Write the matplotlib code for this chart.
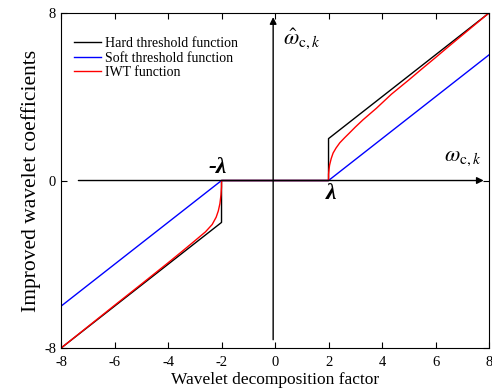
import matplotlib
matplotlib.use("Agg")
import matplotlib.pyplot as plt

plt.rcParams['font.family'] = ['Liberation Serif', 'DejaVu Serif']
plt.rcParams['mathtext.fontset'] = 'stix'
plt.rcParams['axes.unicode_minus'] = False

LAMBDA = 2

# hard threshold: y = x outside [-lambda, lambda], 0 inside
hard_x = [-8, -2, -2, 2, 2, 8]
hard_y = [-8, -2, 0, 0, 2, 8]

# soft threshold: shrunk by lambda
soft_x = [-8, -2, 2, 8]
soft_y = [-6, 0, 0, 6]

# IWT curve
iwt_x = [-8, -7, -6, -5, -4.5, -4, -3.5, -3, -2.6, -2.35, -2.2, -2.12, -2.06,
         -2.02, -2, -2, 2, 2, 2.02, 2.04, 2.1, 2.17, 2.28, 2.42, 2.6, 2.79,
         3, 3.29, 3.79, 4.35, 5, 5.5, 6, 6.5, 7, 7.5, 8]
iwt_y = [-8, -6.98, -5.96, -4.95, -4.44, -3.93, -3.41, -2.88, -2.45, -2.1,
         -1.75, -1.45, -1.1, -0.68, -0.3, 0, 0, 0.3, 0.55, 0.74, 1.05, 1.31,
         1.55, 1.8, 2.04, 2.28, 2.55, 2.9, 3.45, 4.12, 4.8, 5.34, 5.87,
         6.41, 6.94, 7.47, 8]

x_ticks = [-8, -6, -4, -2, 0, 2, 4, 6, 8]
y_ticks = [-8, 0, 8]

fig = plt.figure(figsize=(4.92, 3.92), dpi=100)
ax = fig.add_axes([0.124, 0.112, 0.870, 0.855])

# inner coordinate axes with arrows
ax.annotate('', xy=(-0.07, 7.8), xytext=(-0.07, -7.6),
            arrowprops=dict(arrowstyle='-|>', color='black', lw=1,
                            mutation_scale=10, shrinkA=0, shrinkB=0))
ax.annotate('', xy=(7.8, 0), xytext=(-7.35, 0),
            arrowprops=dict(arrowstyle='-|>', color='black', lw=1,
                            mutation_scale=10, shrinkA=0, shrinkB=0))

ax.plot(hard_x, hard_y, color='black', lw=1, label='Hard threshold function')
ax.plot(soft_x, soft_y, color='blue', lw=1, label='Soft threshold function')
ax.plot(iwt_x, iwt_y, color='red', lw=1, label='IWT function')

ax.text(0.3, 6.75, r'$\hat{\omega}_{\mathrm{c},k}$', fontsize=16, va='center')
ax.text(6.3, 1.05, r'$\omega_{\mathrm{c},k}$', fontsize=16, va='center')
ax.text(-2.15, 0.6, '-λ', fontsize=17, fontweight='bold', fontstyle='italic',
        ha='center', va='center')
ax.text(2.1, -0.6, 'λ', fontsize=17, fontweight='bold', fontstyle='italic',
        ha='center', va='center')

ax.set_xlim(-8, 8)
ax.set_ylim(-8, 8)
ax.set_xticks(x_ticks)
ax.set_yticks(y_ticks)
ax.tick_params(direction='in', top=True, right=True, length=4, labelsize=10.5)
ax.tick_params(axis='x', pad=6)
ax.set_xlabel('Wavelet decomposition factor', fontsize=12.5, labelpad=2)
ax.set_ylabel('Improved wavelet coefficients', fontsize=15.5, labelpad=2)

ax.legend(loc='upper left', bbox_to_anchor=(0.0, 0.965), frameon=False,
          fontsize=10, handlelength=2.0, handletextpad=0.3, labelspacing=0.1)

fig.savefig('out.png', dpi=100)
